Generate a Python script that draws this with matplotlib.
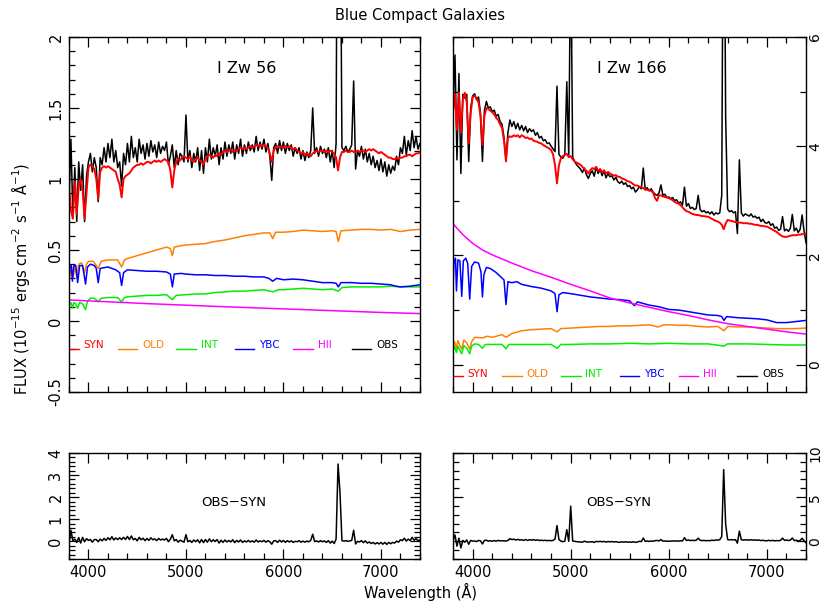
import matplotlib.pyplot as plt
import numpy as np
from matplotlib.ticker import MultipleLocator, FormatStrFormatter

# common wavelength sampling for the observed and synthetic spectra (Angstrom)
wl = np.arange(3800, 7401, 20)

# ---------------- I Zw 56 ----------------
syn56 = [0.95, 0.78, 0.72, 0.98, 0.75, 0.95, 1.00, 0.92, 0.72, 0.90,
         1.08, 1.10, 1.09, 1.07, 1.00, 0.86, 1.05, 1.08, 1.09, 1.08,
         1.09, 1.08, 1.07, 1.06, 1.05, 1.00, 0.96, 0.87, 1.00, 1.02,
         1.03, 1.04, 1.06, 1.08, 1.09, 1.10, 1.10, 1.11, 1.10, 1.11,
         1.12, 1.12, 1.11, 1.12, 1.13, 1.12, 1.13, 1.12, 1.13, 1.14,
         1.13, 1.12, 1.06, 0.94, 1.06, 1.12, 1.14, 1.13, 1.15, 1.16,
         1.15, 1.14, 1.16, 1.13, 1.12, 1.14, 1.15, 1.13, 1.12, 1.10,
         1.14, 1.16, 1.17, 1.16, 1.15, 1.17, 1.16, 1.18, 1.17, 1.19,
         1.20, 1.19, 1.20, 1.21, 1.19, 1.20, 1.20, 1.21, 1.22, 1.21,
         1.22, 1.21, 1.22, 1.23, 1.22, 1.23, 1.24, 1.23, 1.24, 1.23,
         1.24, 1.23, 1.22, 1.18, 1.12, 1.20, 1.22, 1.23, 1.22, 1.23,
         1.22, 1.23, 1.22, 1.23, 1.22, 1.21, 1.22, 1.20, 1.19, 1.18,
         1.19, 1.17, 1.18, 1.17, 1.16, 1.18, 1.19, 1.20, 1.19, 1.20,
         1.20, 1.19, 1.20, 1.19, 1.20, 1.19, 1.18, 1.15, 1.06, 1.15,
         1.19, 1.19, 1.20, 1.19, 1.19, 1.20, 1.19, 1.19, 1.20, 1.19,
         1.20, 1.20, 1.19, 1.20, 1.21, 1.20, 1.21, 1.20, 1.19, 1.18,
         1.19, 1.18, 1.17, 1.16, 1.15, 1.15, 1.14, 1.14, 1.15, 1.14,
         1.15, 1.15, 1.16, 1.16, 1.17, 1.17, 1.16, 1.17, 1.18, 1.18,
         1.19]
obs56 = [0.82, 1.28, 0.74, 1.08, 0.70, 1.12, 0.92, 1.10, 0.70, 1.02,
         1.12, 1.18, 1.05, 1.15, 1.08, 0.84, 1.15, 1.10, 1.22, 1.12,
         1.25, 1.15, 1.28, 1.12, 1.20, 1.08, 1.12, 0.95, 1.18, 1.10,
         1.25, 1.12, 1.30, 1.15, 1.22, 1.12, 1.28, 1.18, 1.24, 1.14,
         1.25, 1.16, 1.27, 1.19, 1.24, 1.15, 1.26, 1.18, 1.23, 1.20,
         1.26, 1.10, 1.16, 1.24, 1.08, 1.20, 1.10, 1.18, 1.16, 1.12,
         1.45, 1.12, 1.20, 1.08, 1.18, 1.12, 1.22, 1.06, 1.20, 1.04,
         1.22, 1.12, 1.28, 1.14, 1.22, 1.16, 1.24, 1.10, 1.22, 1.14,
         1.26, 1.16, 1.24, 1.18, 1.26, 1.14, 1.24, 1.18, 1.28, 1.16,
         1.24, 1.18, 1.26, 1.20, 1.24, 1.19, 1.30, 1.20, 1.26, 1.21,
         1.28, 1.19, 1.25, 1.16, 0.99, 1.22, 1.25, 1.18, 1.27, 1.20,
         1.26, 1.18, 1.25, 1.20, 1.24, 1.16, 1.22, 1.18, 1.22, 1.14,
         1.20, 1.13, 1.19, 1.15, 1.20, 1.50, 1.18, 1.22, 1.16, 1.23,
         1.18, 1.21, 1.15, 1.22, 1.12, 1.20, 1.08, 1.25, 4.56, 3.35,
         1.22, 1.20, 1.23, 1.19, 1.21, 1.24, 1.69, 1.07, 1.20, 1.16,
         1.23, 1.14, 1.21, 1.12, 1.18, 1.10, 1.16, 1.08, 1.13, 1.06,
         1.14, 1.05, 1.12, 1.02, 1.10, 1.04, 1.09, 1.06, 1.16, 1.10,
         1.22, 1.18, 1.30, 1.17, 1.27, 1.20, 1.34, 1.22, 1.30, 1.21,
         1.25]

old56_wl = [3800, 3820, 3840, 3860, 3880, 3900, 3930, 3960, 3980, 4000, 4050, 4100,
            4130, 4200, 4300, 4340, 4370, 4400, 4500, 4600, 4700, 4800, 4840, 4860,
            4880, 4950, 5000, 5100, 5200, 5300, 5400, 5500, 5600, 5700, 5800, 5860,
            5890, 5920, 6000, 6100, 6200, 6300, 6400, 6500, 6540, 6563, 6590, 6700,
            6800, 6900, 7000, 7100, 7200, 7300, 7400]
old56 = [0.28, 0.36, 0.30, 0.38, 0.31, 0.40, 0.41, 0.34, 0.40, 0.42, 0.42, 0.37,
         0.42, 0.43, 0.43, 0.38, 0.43, 0.44, 0.46, 0.48, 0.50, 0.52, 0.51, 0.46,
         0.52, 0.53, 0.535, 0.54, 0.545, 0.56, 0.57, 0.585, 0.60, 0.61, 0.62, 0.62,
         0.58, 0.625, 0.625, 0.63, 0.64, 0.635, 0.63, 0.635, 0.63, 0.56, 0.635, 0.64,
         0.645, 0.645, 0.64, 0.645, 0.63, 0.64, 0.645]

ybc56_wl = [3800, 3810, 3825, 3835, 3850, 3870, 3889, 3910, 3940, 3970, 3990, 4020,
            4060, 4080, 4100, 4120, 4200, 4280, 4320, 4340, 4360, 4400, 4500, 4600,
            4700, 4800, 4840, 4861, 4880, 4950, 5000, 5100, 5200, 5300, 5400, 5500,
            5600, 5700, 5800, 5850, 5890, 5930, 6000, 6100, 6200, 6300, 6400, 6500,
            6540, 6563, 6590, 6700, 6800, 6900, 7000, 7100, 7150, 7200, 7300, 7400]
ybc56 = [0.30, 0.38, 0.39, 0.28, 0.39, 0.39, 0.27, 0.39, 0.39, 0.26, 0.38, 0.40,
         0.39, 0.37, 0.27, 0.37, 0.38, 0.36, 0.34, 0.25, 0.34, 0.36, 0.355, 0.35,
         0.35, 0.345, 0.33, 0.24, 0.33, 0.335, 0.33, 0.325, 0.325, 0.32, 0.32, 0.315,
         0.315, 0.31, 0.31, 0.30, 0.28, 0.30, 0.29, 0.295, 0.29, 0.28, 0.27, 0.27,
         0.265, 0.24, 0.27, 0.27, 0.265, 0.265, 0.26, 0.255, 0.245, 0.24, 0.245, 0.255]

int56_wl = [3800, 3820, 3835, 3850, 3870, 3889, 3910, 3940, 3970, 3990, 4020, 4060,
            4100, 4130, 4200, 4300, 4340, 4370, 4400, 4500, 4600, 4700, 4800, 4861,
            4900, 5000, 5100, 5200, 5300, 5400, 5500, 5600, 5700, 5800, 5890, 5950,
            6000, 6100, 6200, 6300, 6400, 6500, 6563, 6600, 6700, 6800, 6900, 7000,
            7100, 7200, 7300, 7400]
int56 = [0.11, 0.13, 0.09, 0.13, 0.12, 0.09, 0.13, 0.12, 0.08, 0.14, 0.16, 0.16,
         0.135, 0.16, 0.165, 0.165, 0.135, 0.165, 0.17, 0.175, 0.18, 0.18, 0.185, 0.15,
         0.18, 0.185, 0.19, 0.19, 0.20, 0.205, 0.21, 0.21, 0.215, 0.22, 0.205, 0.22,
         0.22, 0.225, 0.23, 0.225, 0.22, 0.225, 0.21, 0.235, 0.24, 0.24, 0.24, 0.24,
         0.245, 0.24, 0.24, 0.24]

hii56_wl = [3800, 4200, 4600, 5000, 5400, 5800, 6200, 6600, 7000, 7400]
hii56 = [0.148, 0.135, 0.122, 0.111, 0.10, 0.09, 0.08, 0.07, 0.06, 0.052]

# ---------------- I Zw 166 ----------------
syn166 = [4.63, 4.95, 4.30, 4.98, 4.25, 4.85, 4.98, 4.80, 4.05, 4.60,
          4.90, 4.92, 4.88, 4.80, 4.55, 4.02, 4.55, 4.70, 4.68, 4.65,
          4.62, 4.58, 4.52, 4.48, 4.40, 4.33, 4.10, 3.72, 4.15, 4.18,
          4.17, 4.20, 4.18, 4.20, 4.16, 4.20, 4.18, 4.15, 4.16, 4.13,
          4.14, 4.10, 4.09, 4.08, 4.06, 4.05, 4.02, 4.00, 3.98, 3.96,
          3.93, 3.85, 3.65, 3.32, 3.65, 3.78, 3.82, 3.84, 3.86, 3.80,
          3.82, 3.76, 3.72, 3.70, 3.68, 3.66, 3.62, 3.58, 3.55, 3.50,
          3.56, 3.60, 3.58, 3.62, 3.55, 3.58, 3.52, 3.56, 3.50, 3.53,
          3.50, 3.48, 3.46, 3.47, 3.44, 3.44, 3.41, 3.40, 3.38, 3.36,
          3.35, 3.33, 3.30, 3.28, 3.28, 3.26, 3.25, 3.23, 3.21, 3.20,
          3.20, 3.18, 3.15, 3.05, 3.00, 3.10, 3.10, 3.08, 3.07, 3.06,
          3.05, 3.03, 3.01, 2.98, 2.96, 2.95, 2.92, 2.88, 2.84, 2.81,
          2.80, 2.78, 2.76, 2.75, 2.74, 2.74, 2.73, 2.72, 2.72, 2.71,
          2.71, 2.69, 2.67, 2.65, 2.63, 2.62, 2.60, 2.56, 2.48, 2.58,
          2.65, 2.64, 2.63, 2.62, 2.61, 2.61, 2.60, 2.60, 2.59, 2.59,
          2.59, 2.58, 2.58, 2.57, 2.56, 2.56, 2.55, 2.54, 2.54, 2.53,
          2.53, 2.51, 2.49, 2.47, 2.45, 2.43, 2.40, 2.37, 2.35, 2.34,
          2.34, 2.35, 2.36, 2.37, 2.37, 2.37, 2.38, 2.38, 2.39, 2.39,
          2.40]
obs166 = [4.70, 5.67, 3.75, 5.33, 3.50, 4.95, 4.88, 4.95, 3.72, 4.70,
          4.92, 4.96, 4.85, 4.90, 4.60, 3.72, 4.65, 4.82, 4.70, 4.72,
          4.63, 4.66, 4.55, 4.58, 4.45, 4.40, 4.15, 3.75, 4.25, 4.48,
          4.36, 4.45, 4.32, 4.42, 4.30, 4.38, 4.28, 4.36, 4.25, 4.32,
          4.27, 4.30, 4.20, 4.25, 4.15, 4.18, 4.10, 4.12, 4.05, 4.06,
          4.00, 3.95, 3.90, 5.10, 3.85, 3.80, 3.78, 3.85, 5.18, 3.80,
          7.80, 3.80, 3.72, 3.66, 3.62, 3.58, 3.52, 3.60, 3.48, 3.41,
          3.50, 3.55, 3.45, 3.62, 3.50, 3.58, 3.46, 3.55, 3.42, 3.50,
          3.44, 3.46, 3.38, 3.43, 3.35, 3.32, 3.36, 3.30, 3.33, 3.26,
          3.28, 3.22, 3.25, 3.16, 3.20, 3.26, 3.22, 3.60, 3.20, 3.24,
          3.18, 3.22, 3.16, 3.12, 3.10, 3.14, 3.29, 3.10, 3.12, 3.06,
          3.07, 3.04, 3.06, 3.00, 3.02, 2.96, 2.98, 2.92, 3.25, 2.90,
          2.95, 2.86, 2.88, 2.84, 2.86, 3.10, 2.84, 2.80, 2.82, 2.78,
          2.80, 2.76, 2.80, 2.74, 2.78, 2.76, 2.78, 3.10, 10.60, 4.55,
          2.85, 2.80, 2.82, 2.78, 2.80, 2.40, 3.75, 2.78, 2.72, 2.76,
          2.74, 2.72, 2.76, 2.70, 2.72, 2.68, 2.70, 2.62, 2.66, 2.60,
          2.59, 2.62, 2.55, 2.58, 2.50, 2.52, 2.46, 2.48, 2.71, 2.45,
          2.48, 2.44, 2.50, 2.75, 2.45, 2.50, 2.42, 2.48, 2.74, 2.44,
          2.23]

old166_wl = [3800, 3815, 3835, 3850, 3870, 3889, 3910, 3940, 3970, 3990, 4020, 4100,
             4150, 4200, 4300, 4340, 4400, 4500, 4600, 4700, 4800, 4861, 4900, 5000,
             5100, 5200, 5300, 5400, 5500, 5600, 5700, 5800, 5890, 5950, 6000, 6100,
             6200, 6300, 6400, 6500, 6563, 6600, 6700, 6800, 6900, 7000, 7100, 7200,
             7300, 7400]
old166 = [0.33, 0.42, 0.30, 0.44, 0.35, 0.28, 0.45, 0.40, 0.28, 0.42, 0.50, 0.49,
          0.52, 0.50, 0.55, 0.50, 0.57, 0.62, 0.64, 0.65, 0.66, 0.60, 0.66, 0.67,
          0.68, 0.69, 0.70, 0.70, 0.71, 0.71, 0.72, 0.73, 0.69, 0.73, 0.73, 0.72,
          0.72, 0.70, 0.69, 0.70, 0.62, 0.70, 0.69, 0.69, 0.68, 0.67, 0.66, 0.66,
          0.66, 0.67]

ybc166_wl = [3800, 3810, 3825, 3835, 3850, 3870, 3889, 3905, 3930, 3950, 3970, 3990,
             4020, 4060, 4085, 4100, 4115, 4140, 4180, 4230, 4280, 4320, 4340, 4360,
             4400, 4450, 4500, 4550, 4600, 4700, 4800, 4840, 4861, 4880, 4920, 5000,
             5100, 5200, 5300, 5400, 5500, 5600, 5650, 5680, 5800, 5900, 6000, 6100,
             6200, 6300, 6400, 6500, 6540, 6563, 6590, 6700, 6800, 6900, 7000, 7100,
             7200, 7300, 7400]
ybc166 = [1.40, 1.90, 1.95, 1.35, 1.92, 1.90, 1.25, 1.90, 1.95, 1.85, 1.20, 1.80,
          1.88, 1.86, 1.70, 1.24, 1.65, 1.78, 1.76, 1.70, 1.62, 1.55, 1.10, 1.52,
          1.50, 1.52, 1.47, 1.45, 1.43, 1.40, 1.35, 1.30, 0.97, 1.28, 1.32, 1.30,
          1.27, 1.24, 1.22, 1.20, 1.19, 1.17, 1.08, 1.15, 1.09, 1.06, 1.01, 1.00,
          0.97, 0.94, 0.91, 0.90, 0.88, 0.81, 0.88, 0.86, 0.85, 0.84, 0.82, 0.77,
          0.77, 0.79, 0.81]

int166_wl = [3800, 3815, 3835, 3850, 3870, 3889, 3910, 3940, 3970, 3990, 4020, 4060,
             4100, 4130, 4200, 4300, 4340, 4370, 4400, 4600, 4800, 4861, 4900, 5000,
             5200, 5400, 5600, 5800, 6000, 6200, 6400, 6563, 6600, 6800, 7000, 7200,
             7400]
int166 = [0.27, 0.33, 0.22, 0.34, 0.26, 0.20, 0.35, 0.30, 0.20, 0.34, 0.38, 0.37,
          0.30, 0.37, 0.37, 0.37, 0.29, 0.37, 0.37, 0.37, 0.37, 0.30, 0.37, 0.37,
          0.38, 0.38, 0.39, 0.38, 0.39, 0.38, 0.38, 0.34, 0.38, 0.38, 0.37, 0.36,
          0.36]

hii166_wl = [3800, 3900, 4000, 4100, 4200, 4400, 4600, 4800, 5000, 5200, 5400,
             5600, 5800, 6000, 6200, 6400, 6600, 6800, 7000, 7200, 7400]
hii166 = [2.58, 2.38, 2.22, 2.10, 2.01, 1.86, 1.72, 1.60, 1.47, 1.35, 1.22,
          1.13, 1.05, 0.97, 0.90, 0.82, 0.75, 0.70, 0.65, 0.60, 0.56]

legend_names = ['SYN', 'OLD', 'INT', 'YBC', 'HII', 'OBS']
colors = ['#ff0000', '#ff8000', '#00ee00', '#0000ff', '#ff00ff', '#000000']


def style(ax, ylo, yhi, ymaj, ymin, right=False, xlabels=False):
    ax.set_xlim(3800, 7400)
    ax.set_ylim(ylo, yhi)
    ax.xaxis.set_major_locator(MultipleLocator(1000))
    ax.xaxis.set_minor_locator(MultipleLocator(200))
    ax.yaxis.set_major_locator(MultipleLocator(ymaj))
    ax.yaxis.set_minor_locator(MultipleLocator(ymin))
    ax.yaxis.set_major_formatter(FormatStrFormatter('%g'))
    ax.tick_params(which='both', direction='in', top=True, right=True,
                   width=0.9, labelsize=10.5, pad=4)
    ax.tick_params(which='major', length=7)
    ax.tick_params(which='minor', length=4)
    ax.tick_params(axis='x', labelbottom=xlabels)
    ax.tick_params(axis='y', labelrotation=90)
    if right:
        # labels on the right edge sit very close to the border
        ax.tick_params(axis='y', labelleft=False, labelright=True,
                       pad=1.5, labelsize=10)
    for s in ax.spines.values():
        s.set_linewidth(1.0)
    plt.setp(ax.get_yticklabels(), va='center')


fig = plt.figure(figsize=(8.21, 6.03), dpi=100)
ax1 = fig.add_axes([0.084, 0.350, 0.4275, 0.5887])
ax2 = fig.add_axes([0.5518, 0.350, 0.430, 0.5887])
ax3 = fig.add_axes([0.084, 0.073, 0.4275, 0.1758])
ax4 = fig.add_axes([0.5518, 0.073, 0.430, 0.1758])

panels = [
    (ax1, ax3, syn56, obs56, (old56_wl, old56), (int56_wl, int56),
     (ybc56_wl, ybc56), (hii56_wl, hii56), 'I Zw 56', 1.78, 1.74),
    (ax2, ax4, syn166, obs166, (old166_wl, old166), (int166_wl, int166),
     (ybc166_wl, ybc166), (hii166_wl, hii166), 'I Zw 166', 5.42, 4.35),
]

for ax, axr, syn, obs, old, inter, ybc, hii, name, yname, yres in panels:
    syn = np.array(syn)
    obs = np.array(obs)
    lw = 1.1
    ax.plot(old[0], old[1], color=colors[1], lw=lw)
    ax.plot(inter[0], inter[1], color=colors[2], lw=lw)
    ax.plot(ybc[0], ybc[1], color=colors[3], lw=lw)
    ax.plot(hii[0], hii[1], color=colors[4], lw=lw)
    ax.plot(wl, obs, color='black', lw=lw)
    ax.plot(wl, syn, color=colors[0], lw=1.4)
    ax.text(5620, yname, name, ha='center', va='center', fontsize=11.5)

    # legend row of short segments + labels
    for i, (nm, c) in enumerate(zip(legend_names, colors)):
        x0 = 3700 + 600 * i
        ax.plot([x0, x0 + 200], [-0.2, -0.2], color=c, lw=1.0)
        ax.text(x0 + 250, -0.17, nm, color=c, fontsize=7.5, va='center', ha='left')

    axr.plot(wl, obs - syn, color='black', lw=1.1)
    axr.text(5490, yres, 'OBS\u2212SYN', ha='center', va='center', fontsize=9.5)

style(ax1, -0.5, 2, 0.5, 0.1)
style(ax2, -0.5, 6, 2, 1, right=True)
style(ax3, -0.8, 4, 1, 0.2, xlabels=True)
style(ax4, -2, 10, 5, 1, right=True, xlabels=True)

fig.text(0.512, 0.975, 'Blue Compact Galaxies', ha='center', va='center', fontsize=10.5)
fig.text(0.512, 0.018, 'Wavelength (\u00c5)', ha='center', va='center', fontsize=10.5)
fig.text(0.025, 0.537, 'FLUX (10$^{-15}$ ergs cm$^{-2}$ s$^{-1}$ \u00c5$^{-1}$)',
         rotation=90, ha='center', va='center', fontsize=10.5)

fig.savefig('out.png', dpi=100)
